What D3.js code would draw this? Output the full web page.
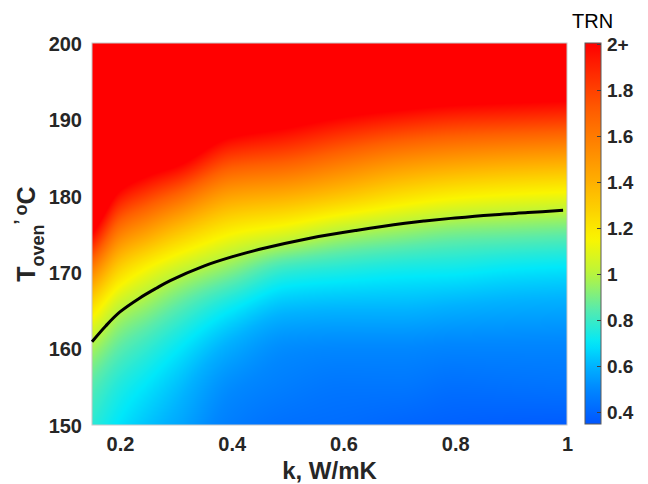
<!DOCTYPE html>
<html>
<head>
<meta charset="utf-8">
<script src="https://cdn.jsdelivr.net/npm/d3@7"></script>
<style>
  html, body { margin: 0; padding: 0; background: #ffffff; }
  svg { display: block; font-family: "Liberation Sans", Arial, sans-serif; }
</style>
</head>
<body>
<svg id="chart" width="648" height="484"></svg>
<script>
// ---------------- data ----------------
const kValues = [0.15, 0.2, 0.25, 0.3, 0.4, 0.5, 0.6, 0.7, 0.8, 0.9, 1.0];          // W/mK
const tOvenValues = [150, 155, 160, 165, 170, 175, 180, 185, 190, 195, 200];        // degC
// TRN estimated at each (k, T) grid node; one row per k value, columns follow tOvenValues
const trnGrid = [
  [0.77, 0.84, 0.97, 1.20, 1.55, 2.00, 2.45, 2.90, 3.40, 3.90, 4.40], // k=0.15
  [0.69, 0.75, 0.85, 1.00, 1.25, 1.58, 1.95, 2.35, 2.80, 3.25, 3.70], // k=0.2
  [0.63, 0.69, 0.78, 0.92, 1.12, 1.44, 1.80, 2.20, 2.65, 3.05, 3.50], // k=0.25
  [0.58, 0.63, 0.71, 0.84, 1.03, 1.32, 1.68, 2.10, 2.50, 2.90, 3.30], // k=0.3
  [0.47, 0.51, 0.58, 0.70, 0.90, 1.15, 1.45, 1.80, 2.18, 2.55, 2.95], // k=0.4
  [0.43, 0.47, 0.51, 0.61, 0.77, 1.07, 1.40, 1.74, 2.08, 2.45, 2.85], // k=0.5
  [0.42, 0.45, 0.50, 0.60, 0.74, 0.98, 1.32, 1.64, 1.98, 2.35, 2.75], // k=0.6
  [0.40, 0.45, 0.50, 0.60, 0.72, 0.93, 1.23, 1.55, 1.91, 2.30, 2.70], // k=0.7
  [0.385,0.43, 0.49, 0.585,0.71, 0.89, 1.17, 1.50, 1.86, 2.25, 2.65], // k=0.8
  [0.375,0.435,0.49, 0.575,0.69, 0.875,1.14, 1.47, 1.84, 2.22, 2.62], // k=0.9
  [0.37, 0.44, 0.49, 0.57, 0.68, 0.86, 1.12, 1.45, 1.82, 2.20, 2.60]  // k=1.0
];
// TRN = 1 contour line (k, T)
const contourK = [0.15, 0.175, 0.2, 0.235, 0.265, 0.29, 0.35, 0.4, 0.45, 0.54, 0.625, 0.71, 0.745, 0.8, 0.865, 0.93, 0.993];
const contourT = [160.9, 163.0, 164.8, 166.6, 167.9, 168.9, 170.8, 172.0, 173.0, 174.45, 175.5, 176.4, 176.7, 177.1, 177.5, 177.8, 178.1];

const xTicks = [0.2, 0.4, 0.6, 0.8, 1];
const yTicks = [150, 160, 170, 180, 190, 200];
const cbTicks = [0.4, 0.6, 0.8, 1, 1.2, 1.4, 1.6, 1.8, 2];
const cbTickLabels = ["0.4", "0.6", "0.8", "1", "1.2", "1.4", "1.6", "1.8", "2+"];
const colorStopValues = [0.35, 0.5, 0.6, 0.7, 0.85, 1.0, 1.15, 1.4, 1.7, 2.0];
const colorStopColors = ["rgb(0,85,255)", "rgb(0,135,255)", "rgb(0,178,255)", "rgb(0,232,250)",
  "rgb(90,235,170)", "rgb(185,245,60)", "rgb(250,245,0)", "rgb(255,175,0)", "rgb(255,95,0)", "rgb(255,0,0)"];

// ---------------- layout ----------------
const svg = d3.select("#chart");
const P = { left: 92, right: 567, top: 43, bottom: 425 };
const x = d3.scaleLinear().domain([0.15, 1]).range([P.left, P.right]);
const y = d3.scaleLinear().domain([150, 200]).range([P.bottom, P.top]);
const color = d3.scaleLinear().domain(colorStopValues).range(colorStopColors)
  .interpolate(d3.interpolateRgb).clamp(true);
const textCol = "#262626";

// ---------------- heat map: grid rendered with smooth (monotone cubic) shading ----------------
function monoCubic(xs, ys, v) {
  const n = xs.length;
  let i = d3.bisectRight(xs, v) - 1;
  i = Math.max(0, Math.min(n - 2, i));
  const h = xs.map((xx, j) => j < n - 1 ? xs[j + 1] - xx : 1);
  const d = ys.map((yy, j) => j < n - 1 ? (ys[j + 1] - yy) / h[j] : 0);
  function slope(j) {
    if (j === 0) return d[0];
    if (j === n - 1) return d[n - 2];
    if (d[j - 1] * d[j] <= 0) return 0;
    const w1 = 2 * h[j] + h[j - 1], w2 = h[j] + 2 * h[j - 1];
    return (w1 + w2) / (w1 / d[j - 1] + w2 / d[j]);
  }
  const t = Math.max(0, Math.min(1, (v - xs[i]) / h[i]));
  const m0 = slope(i) * h[i], m1 = slope(i + 1) * h[i];
  const t2 = t * t, t3 = t2 * t;
  return (2 * t3 - 3 * t2 + 1) * ys[i] + (t3 - 2 * t2 + t) * m0 + (-2 * t3 + 3 * t2) * ys[i + 1] + (t3 - t2) * m1;
}
const W = P.right - P.left, H = P.bottom - P.top;
const cv = document.createElement("canvas");
cv.width = W; cv.height = H;
const ctx = cv.getContext("2d");
const img = ctx.createImageData(W, H);
const rowT = d3.range(H).map(py => y.invert(P.top + py + 0.5));
for (let px = 0; px < W; px++) {
  const k = x.invert(P.left + px + 0.5);
  const colAtK = tOvenValues.map((_, j) => monoCubic(kValues, trnGrid.map(r => r[j]), k));
  for (let py = 0; py < H; py++) {
    const c = d3.rgb(color(monoCubic(tOvenValues, colAtK, rowT[py])));
    const o = (py * W + px) * 4;
    img.data[o] = c.r; img.data[o + 1] = c.g; img.data[o + 2] = c.b; img.data[o + 3] = 255;
  }
}
ctx.putImageData(img, 0, 0);
svg.append("image")
  .attr("x", P.left).attr("y", P.top).attr("width", W).attr("height", H)
  .attr("preserveAspectRatio", "none")
  .attr("href", cv.toDataURL());

// plot border
svg.append("rect").attr("x", P.left).attr("y", P.top).attr("width", W).attr("height", H)
  .attr("fill", "none").attr("stroke", "#c8c8c8").attr("stroke-width", 1);

// contour line TRN = 1
const line = d3.line().x(d => x(d[0])).y(d => y(d[1])).curve(d3.curveCatmullRom.alpha(0.5));
svg.append("path")
  .datum(contourK.map((k, i) => [k, contourT[i]]))
  .attr("d", line).attr("fill", "none").attr("stroke", "#000").attr("stroke-width", 3)
  .attr("stroke-linejoin", "round");

// ---------------- axes ----------------
const xAxis = svg.append("g").attr("transform", `translate(0,${P.bottom})`)
  .call(d3.axisBottom(x).tickValues(xTicks).tickSize(0).tickPadding(0).tickFormat(d3.format("~g")));
xAxis.select(".domain").remove();
xAxis.selectAll("text").attr("dy", null).attr("y", 26)
  .attr("font-size", 20).attr("font-weight", "bold").attr("fill", textCol)
  .attr("font-family", "Liberation Sans, Arial, sans-serif");

const yAxis = svg.append("g").attr("transform", `translate(${P.left},0)`)
  .call(d3.axisLeft(y).tickValues(yTicks).tickSize(0).tickPadding(10));
yAxis.select(".domain").remove();
yAxis.selectAll("text").attr("dy", "0.36em")
  .attr("font-size", 20).attr("font-weight", "bold").attr("fill", textCol)
  .attr("font-family", "Liberation Sans, Arial, sans-serif");

// axis titles
svg.append("text").attr("x", (P.left + P.right) / 2).attr("y", 479)
  .attr("text-anchor", "middle").attr("font-size", 24).attr("font-weight", "bold").attr("fill", textCol)
  .text("k, W/mK");

const yt = svg.append("text")
  .attr("transform", `translate(35,${(P.top + P.bottom) / 2}) rotate(-90)`)
  .attr("text-anchor", "middle").attr("font-size", 25).attr("font-weight", "bold").attr("fill", textCol);
yt.append("tspan").text("T");
yt.append("tspan").attr("font-size", 18).attr("dy", 9).text("oven");
yt.append("tspan").attr("font-size", 18).attr("dy", -17).text("’ ");
yt.append("tspan").attr("font-size", 18).attr("dy", 0).text("o");
yt.append("tspan").attr("dy", 8).text("C");

// ---------------- colour bar ----------------
const CB = { x: 585, w: 16, top: 43, bottom: 424 };
const cy = d3.scaleLinear().domain([0.35, 2]).range([CB.bottom, CB.top + 1.5]);
const grad = svg.append("defs").append("linearGradient").attr("id", "cbgrad")
  .attr("x1", 0).attr("y1", 1).attr("x2", 0).attr("y2", 0);
d3.range(0, 1.0001, 0.02).forEach(f => {
  const v = 0.35 + f * (2 - 0.35);
  grad.append("stop").attr("offset", f).attr("stop-color", color(v));
});
svg.append("rect").attr("x", CB.x).attr("y", CB.top).attr("width", CB.w).attr("height", CB.bottom - CB.top)
  .attr("fill", "url(#cbgrad)").attr("stroke", "#5a5a5a").attr("stroke-width", 1);
const cbg = svg.append("g");
cbg.selectAll("line").data(cbTicks).join("line")
  .attr("x1", CB.x + CB.w - 4).attr("x2", CB.x + CB.w)
  .attr("y1", d => cy(d)).attr("y2", d => cy(d))
  .attr("stroke", "#404040").attr("stroke-width", 1);
cbg.selectAll("text").data(cbTicks).join("text")
  .attr("x", CB.x + CB.w + 6).attr("y", d => cy(d)).attr("dy", "0.36em")
  .attr("font-size", 19).attr("font-weight", "bold").attr("fill", textCol)
  .text((d, i) => cbTickLabels[i]);
svg.append("text").attr("x", 572).attr("y", 28).attr("font-size", 20).attr("fill", "#000")
  .text("TRN");
</script>
</body>
</html>
